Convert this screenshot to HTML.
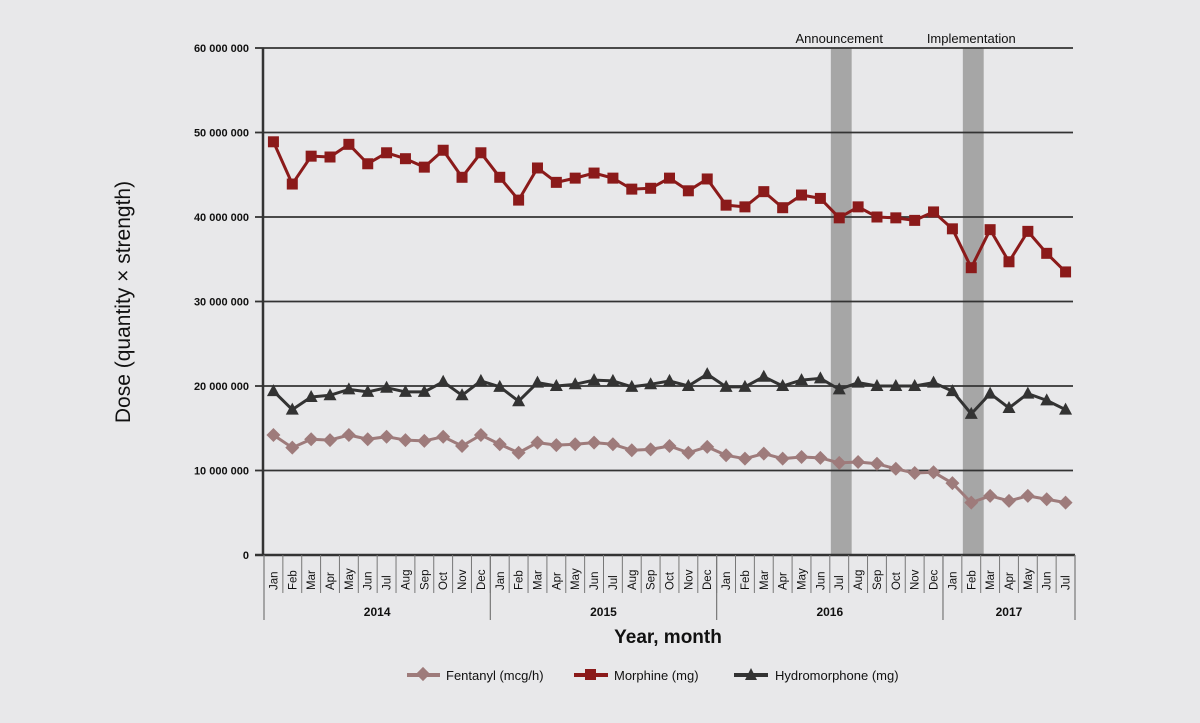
<!DOCTYPE html>
<html><head><meta charset="utf-8">
<style>
html,body{margin:0;padding:0;background:#e8e8ea;}
svg{display:block;font-family:"Liberation Sans",sans-serif;}
</style></head>
<body>
<svg id="chart" width="1200" height="723" viewBox="0 0 1200 723" xmlns="http://www.w3.org/2000/svg">
<rect x="0" y="0" width="1200" height="723" fill="#e8e8ea"/>
<g id="bands"></g><g id="grid"></g><g id="axes"></g><g id="series"></g>
<text x="130" y="302" transform="rotate(-90 130 302)" text-anchor="middle" font-size="21" fill="#111">Dose (quantity × strength)</text>
<text x="668" y="643" text-anchor="middle" font-size="19" font-weight="bold" fill="#111">Year, month</text>
<g>
<g>
<line x1="407" y1="675" x2="440" y2="675" stroke="#9e7b7b" stroke-width="4"/>
<rect x="418" y="669" width="10" height="10" fill="#9e7b7b" transform="rotate(45 423 674)"/>
<text x="446" y="680" font-size="13" fill="#111">Fentanyl (mcg/h)</text></g>
<g>
<line x1="574" y1="675" x2="608" y2="675" stroke="#8b1a1a" stroke-width="4"/>
<rect x="585" y="669" width="11" height="11" fill="#8b1a1a"/>
<text x="614" y="680" font-size="13" fill="#111">Morphine (mg)</text></g>
<g>
<line x1="734" y1="675" x2="768" y2="675" stroke="#333" stroke-width="4"/>
<polygon points="751,668 757,680 745,680" fill="#333"/>
<text x="775" y="680" font-size="13" fill="#111">Hydromorphone (mg)</text></g>
</g>
</svg>
<script>
const months=["Jan","Feb","Mar","Apr","May","Jun","Jul","Aug","Sep","Oct","Nov","Dec","Jan","Feb","Mar","Apr","May","Jun","Jul","Aug","Sep","Oct","Nov","Dec","Jan","Feb","Mar","Apr","May","Jun","Jul","Aug","Sep","Oct","Nov","Dec","Jan","Feb","Mar","Apr","May","Jun","Jul"];
const years=["2014","2015","2016","2017"];
const yearCounts=[12,12,12,7];
const yTicks=[0,10,20,30,40,50,60];
const yTickLabels=["0","10 000 000","20 000 000","30 000 000","40 000 000","50 000 000","60 000 000"];
const morphine=[48.9,43.9,47.2,47.1,48.6,46.3,47.6,46.9,45.9,47.9,44.7,47.6,44.7,42.0,45.8,44.1,44.6,45.2,44.6,43.3,43.4,44.6,43.1,44.5,41.4,41.2,43.0,41.1,42.6,42.2,39.9,41.2,40.0,39.9,39.6,40.6,38.6,34.0,38.5,34.7,38.3,35.7,33.5];
const hydromorphone=[19.4,17.2,18.7,18.9,19.6,19.3,19.8,19.3,19.3,20.5,18.9,20.6,19.9,18.2,20.4,20.0,20.2,20.7,20.6,19.9,20.2,20.6,20.0,21.4,19.9,19.9,21.1,20.0,20.7,20.9,19.6,20.4,20.0,20.0,20.0,20.4,19.4,16.7,19.1,17.4,19.1,18.3,17.2];
const fentanyl=[14.2,12.7,13.7,13.6,14.2,13.7,14.0,13.6,13.5,14.0,12.9,14.2,13.1,12.1,13.3,13.0,13.1,13.3,13.1,12.4,12.5,12.9,12.1,12.8,11.8,11.4,12.0,11.4,11.6,11.5,10.9,11.0,10.8,10.2,9.7,9.8,8.5,6.2,7.0,6.4,7.0,6.6,6.2];
const events=[{label:"Announcement",index:30},{label:"Implementation",index:37}];

const NS="http://www.w3.org/2000/svg";
const X0=264,X1=1075,Y0=555,Y1=48,yMax=60;
const bw=(X1-X0)/months.length;
function xc(i){return X0+(i+0.5)*bw;}
function yv(v){return Y0-(v/yMax)*(Y0-Y1);}
function mk(tag,attrs,parent){const e=document.createElementNS(NS,tag);for(const k in attrs)e.setAttribute(k,attrs[k]);parent.appendChild(e);return e;}
const bands=document.getElementById('bands'),grid=document.getElementById('grid'),axes=document.getElementById('axes'),ser=document.getElementById('series');

events.forEach(ev=>{
  const r=mk('rect',{x:X0+ev.index*bw+1,y:Y1,width:bw+2,height:Y0-Y1,fill:'#a6a6a6'},bands);
  
  
  const t=mk('text',{x:xc(ev.index),y:Y1-5,'text-anchor':'middle','font-size':'13',fill:'#111'},bands);
  t.textContent=ev.label;
  
  
});

yTicks.forEach((v,i)=>{
  const y=yv(v);
  if(v>0){const l=mk('line',{x1:X0,x2:1073,y1:y,y2:y,stroke:'#333','stroke-width':'1.8'},grid);
  
  }
  mk('line',{x1:255,x2:X0,y1:y,y2:y,stroke:'#333','stroke-width':'1.8'},axes);
  const t=mk('text',{x:249,y:y+4,'text-anchor':'end','font-size':'11','font-weight':'bold',fill:'#111'},axes);
  t.textContent=yTickLabels[i];
  
  
});
mk('line',{x1:X0-1,x2:X0-1,y1:Y1,y2:Y0,stroke:'#333','stroke-width':'2.5'},axes);
mk('line',{x1:255,x2:X1,y1:Y0,y2:Y0,stroke:'#333','stroke-width':'2.5'},axes);

months.forEach((m,i)=>{
  mk('line',{x1:X0+(i+1)*bw,x2:X0+(i+1)*bw,y1:Y0,y2:593,stroke:'#777','stroke-width':'1'},axes);
  const x=xc(i)+4,y=590;
  const t=mk('text',{x:x,y:y,transform:`rotate(-90 ${x} ${y})`,'font-size':'11.5',fill:'#111'},axes);
  t.textContent=m;
  
  
});
let start=0;
mk('line',{x1:X0,x2:X0,y1:Y0,y2:620,stroke:'#777','stroke-width':'1.2'},axes);
years.forEach((yr,i)=>{
  const end=start+yearCounts[i];
  const xe=X0+end*bw;
  mk('line',{x1:xe,x2:xe,y1:Y0,y2:620,stroke:'#777','stroke-width':'1.2'},axes);
  const t=mk('text',{x:(X0+start*bw+xe)/2,y:616,'text-anchor':'middle','font-size':'12','font-weight':'bold',fill:'#111'},axes);
  t.textContent=yr;
  
  
  start=end;
});

function drawSeries(data,color,shape,name){
  const g=mk('g',{},ser);
  
  
  const pl=mk('polyline',{points:data.map((v,i)=>xc(i)+','+yv(v)).join(' '),fill:'none',stroke:color,'stroke-width':'3','stroke-linejoin':'round'},g);
  
  
  data.forEach((v,i)=>{
    const x=xc(i),y=yv(v);let p;
    if(shape==='square')p=mk('rect',{x:x-5.5,y:y-5.5,width:11,height:11,fill:color},g);
    else if(shape==='diamond')p=mk('polygon',{points:`${x},${y-7} ${x+7},${y} ${x},${y+7} ${x-7},${y}`,fill:color},g);
    else p=mk('polygon',{points:`${x},${y-7} ${x+6.5},${y+5} ${x-6.5},${y+5}`,fill:color},g);
    
    
  });
}
drawSeries(fentanyl,'#9e7b7b','diamond','fentanyl');
drawSeries(hydromorphone,'#333333','triangle','hydromorphone');
drawSeries(morphine,'#8b1a1a','square','morphine');
</script>
</body></html>
